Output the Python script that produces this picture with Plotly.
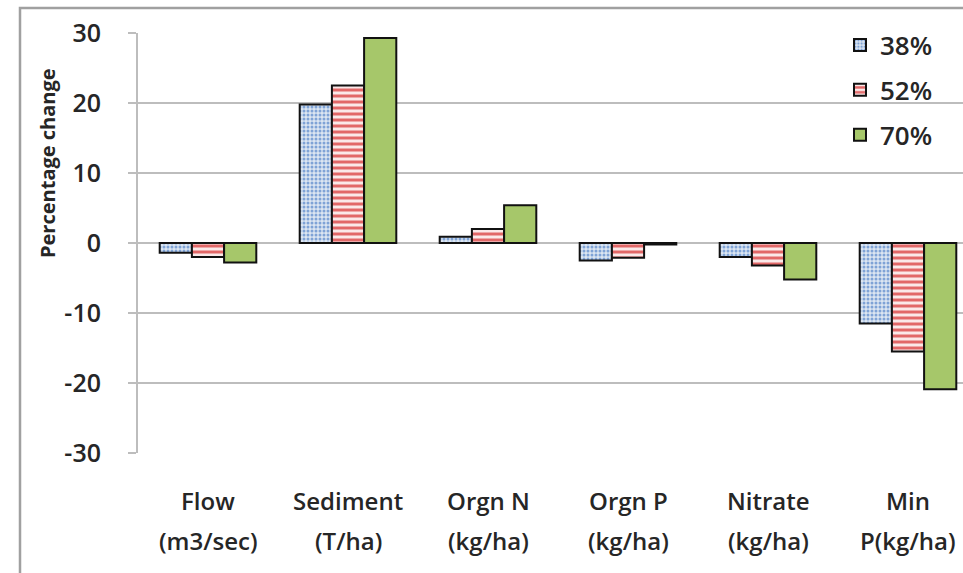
import plotly.graph_objects as go

# Categories (two-line labels) and percentage change per scenario
cat_line1 = ["Flow", "Sediment", "Orgn N", "Orgn P", "Nitrate", "Min"]
cat_line2 = ["(m3/sec)", "(T/ha)", "(kg/ha)", "(kg/ha)", "(kg/ha)", "P(kg/ha)"]
series_names = ["38%", "52%", "70%"]
vals_38 = [-1.4, 19.8, 0.9, -2.5, -2.0, -11.5]
vals_52 = [-2.0, 22.5, 2.0, -2.1, -3.2, -15.5]
vals_70 = [-2.8, 29.3, 5.4, -0.2, -5.2, -20.9]
y_ticks = [-30, -20, -10, 0, 10, 20, 30]
y_tick_text = ["-30", "-20", "-10", "0", "10", "20", "30"]

W, H = 963, 573
L, T, B = 138, 33, 120
plot_w = W - L
plot_h = H - T - B

FONT = "Open Sans"
TXT = "#262626"
GRID = "#BDBDBD"

x = list(range(len(cat_line1)))

styles = [
    dict(color="#DCE6F2", pattern=dict(shape=".", fgcolor="#7FA3D6", bgcolor="#DCE6F2",
                                      size=4, solidity=0.45, fillmode="replace")),
    dict(color="#FBE3E3", pattern=dict(shape="-", fgcolor="#E26868", bgcolor="#FBE9E9",
                                      size=6, solidity=0.5, fillmode="replace")),
    dict(color="#A6C76A"),
]

fig = go.Figure()
for i, (name, vals) in enumerate(zip(series_names, [vals_38, vals_52, vals_70])):
    mk = dict(styles[i])
    mk["line"] = dict(color="#111111", width=2)
    fig.add_trace(go.Bar(x=x, y=vals, name=name, marker=mk, legendgroup=name))

# category labels drawn as two rows of text under the plot
for i in x:
    fig.add_annotation(x=i, y=0, xref="x", yref="paper", text=cat_line1[i],
                       showarrow=False, yanchor="middle", yshift=-47,
                       font=dict(family=FONT, size=24, color=TXT, weight=600))
    fig.add_annotation(x=i, y=0, xref="x", yref="paper", text=cat_line2[i],
                       showarrow=False, yanchor="middle", yshift=-87,
                       font=dict(family=FONT, size=24, color=TXT, weight=600))

# y-axis title
fig.add_annotation(x=(47 - L) / plot_w, y=(H - B - 163) / plot_h, xref="paper", yref="paper",
                   xanchor="center", yanchor="middle",
                   text="<b>Percentage change</b>", textangle=-90, showarrow=False,
                   font=dict(family=FONT, size=20, color=TXT))

# outer chart frame
fig.add_shape(type="rect", xref="paper", yref="paper",
              x0=(20 - L) / plot_w, x1=1.2, y0=-0.6, y1=(H - B - 8) / plot_h,
              line=dict(color="#A0A0A0", width=2.5), fillcolor="rgba(0,0,0,0)", layer="below")

fig.update_layout(
    width=W, height=H,
    margin=dict(l=L, r=0, t=T, b=B),
    paper_bgcolor="white", plot_bgcolor="white",
    barmode="group", bargap=0.31, bargroupgap=0,
    showlegend=True,
    legend=dict(x=(840 - L) / plot_w, y=1.027, xanchor="left", yanchor="top",
                font=dict(family=FONT, size=26, color=TXT, weight=600),
                tracegroupgap=8, itemwidth=30, bgcolor="rgba(0,0,0,0)"),
    xaxis=dict(range=[-0.5, -0.5 + plot_w / 140.0], showticklabels=False, showgrid=False,
               zeroline=False, showline=False, ticks=""),
    yaxis=dict(range=[-30, 30], tickvals=y_ticks, ticktext=y_tick_text,
               showgrid=True, gridcolor=GRID, gridwidth=2,
               zeroline=True, zerolinecolor=GRID, zerolinewidth=2,
               showline=True, linecolor=GRID, linewidth=2,
               ticks="outside", ticklen=8, tickcolor=GRID, tickwidth=2,
               ticklabelstandoff=22,
               tickfont=dict(family=FONT, size=25, color=TXT, weight=600)),
)

fig.write_html("out.html")
